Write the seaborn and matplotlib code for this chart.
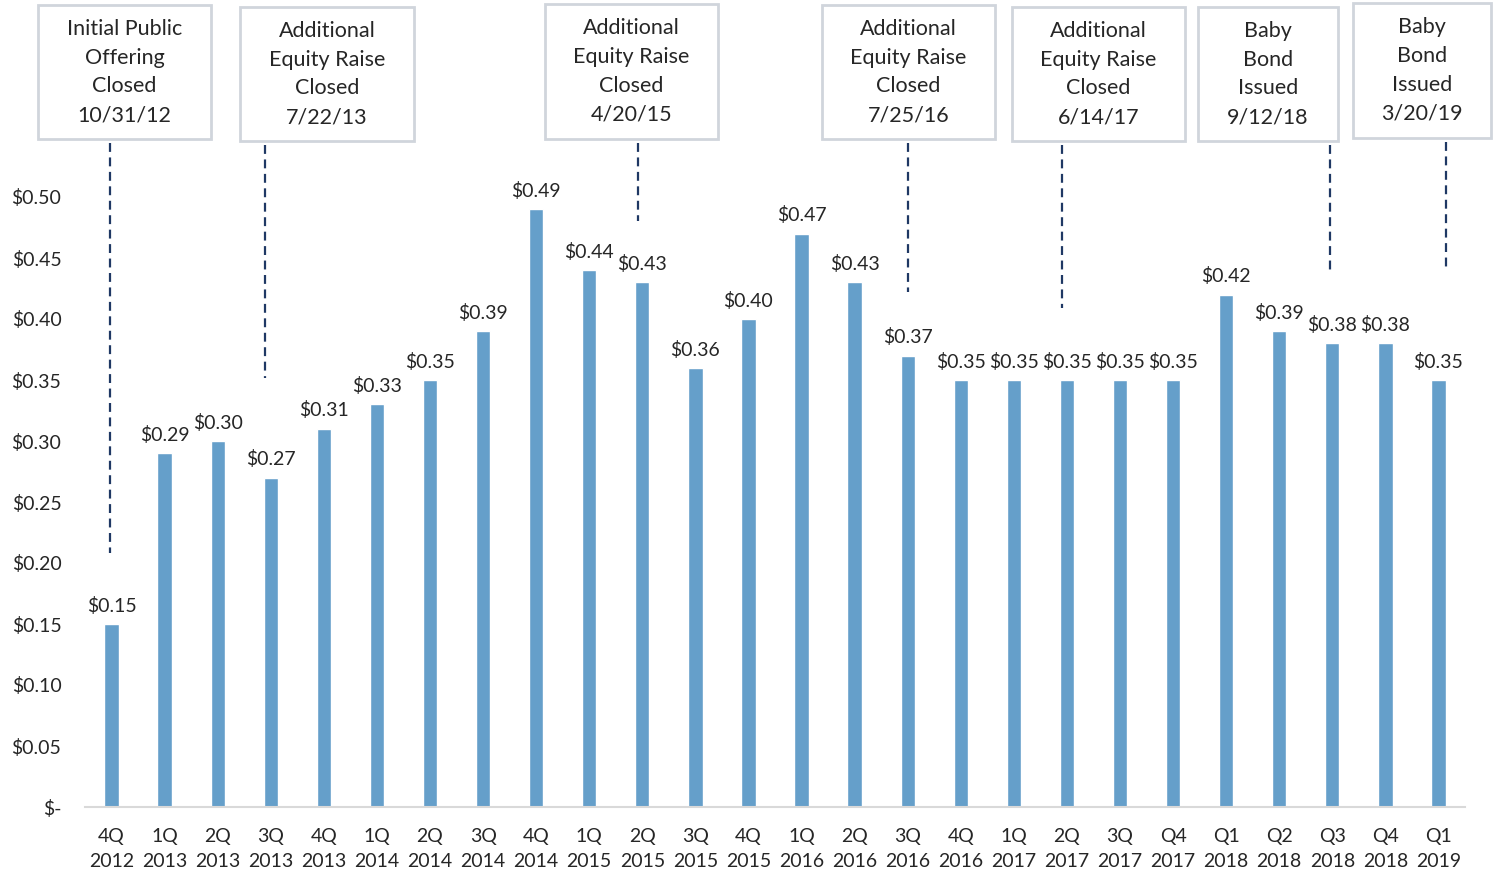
import matplotlib
matplotlib.use("Agg")
import matplotlib.pyplot as plt
from matplotlib.patches import Rectangle
import seaborn as sns
import pandas as pd

# quarterly distributions
quarters = ["4Q\n2012", "1Q\n2013", "2Q\n2013", "3Q\n2013", "4Q\n2013", "1Q\n2014", "2Q\n2014",
            "3Q\n2014", "4Q\n2014", "1Q\n2015", "2Q\n2015", "3Q\n2015", "4Q\n2015", "1Q\n2016",
            "2Q\n2016", "3Q\n2016", "4Q\n2016", "1Q\n2017", "2Q\n2017", "3Q\n2017", "Q4\n2017",
            "Q1\n2018", "Q2\n2018", "Q3\n2018", "Q4\n2018", "Q1\n2019"]
dividends = [0.15, 0.29, 0.30, 0.27, 0.31, 0.33, 0.35, 0.39, 0.49, 0.44, 0.43, 0.36, 0.40,
             0.47, 0.43, 0.37, 0.35, 0.35, 0.35, 0.35, 0.35, 0.42, 0.39, 0.38, 0.38, 0.35]
yticks = [0.0, 0.05, 0.10, 0.15, 0.20, 0.25, 0.30, 0.35, 0.40, 0.45, 0.50]

# events: box text, line position (bar index), line end (value)
event_text = ["Initial Public\nOffering\nClosed\n10/31/12",
              "Additional\nEquity Raise\nClosed\n7/22/13",
              "Additional\nEquity Raise\nClosed\n4/20/15",
              "Additional\nEquity Raise\nClosed\n7/25/16",
              "Additional\nEquity Raise\nClosed\n6/14/17",
              "Baby\nBond\nIssued\n9/12/18",
              "Baby\nBond\nIssued\n3/20/19"]
event_line_x = [-0.02, 2.9, 9.92, 15.0, 17.9, 22.96, 25.15]
event_line_end = [0.208, 0.352, 0.48, 0.422, 0.409, 0.44, 0.44]

# box layout in pixels (left, top, right, bottom)
W, H = 1493, 871
box_px = [(38, 5, 211, 139), (240, 7, 414, 141), (545, 4, 718, 139), (822, 5, 995, 139),
          (1012, 7, 1185, 141), (1198, 7, 1338, 141), (1353, 3, 1491, 138)]

sns.set_style("white")
plt.rcParams['font.family'] = ['Lato', 'DejaVu Sans']

df = pd.DataFrame({"quarter": quarters, "dividend": dividends})

fig = plt.figure(figsize=(W / 100, H / 100), dpi=100)
ax = fig.add_axes([85 / W, 64 / H, 1380 / W, 732 / H])
sns.barplot(data=df, x="quarter", y="dividend", color="#659FCA", saturation=1,
            width=0.27, ax=ax)

ax.set_xlim(-0.5, len(quarters) - 0.5)
ax.set_ylim(0, 0.6)
ax.set_yticks(yticks)
ax.set_yticklabels(["$-"] + [f"${v:.2f}" for v in yticks[1:]], fontsize=14)
ax.tick_params(axis='y', pad=17, length=0)
ax.tick_params(axis='x', length=0, pad=15, labelsize=14)
for lbl in ax.get_xticklabels():
    lbl.set_linespacing(1.55)
ax.set_xlabel("")
ax.set_ylabel("")
for s in ["top", "right", "left"]:
    ax.spines[s].set_visible(False)
ax.spines["bottom"].set_color("#D9D9D9")
ax.spines["bottom"].set_linewidth(1.5)

for i, v in enumerate(dividends):
    ax.text(i, v + 0.015, f"${v:.2f}", ha="center", va="center", fontsize=14)

for txt, lx, ly, (l, t, r, b) in zip(event_text, event_line_x, event_line_end, box_px):
    top_val = (H - 64 - (b + 4)) / 732 * 0.6
    ax.plot([lx, lx], [top_val, ly], color="#1F3864", lw=1.6, ls=(0, (4, 2.5)),
            clip_on=False)
    fig.patches.append(Rectangle((l / W, 1 - b / H), (r - l) / W, (b - t) / H,
                                 transform=fig.transFigure, facecolor="white",
                                 edgecolor="#D0D5DC", lw=2))
    fig.text((l + r) / 2 / W, 1 - (t + b) / 2 / H, txt, ha="center", va="center",
             fontsize=15.5, linespacing=1.55)

plt.savefig("out.png", dpi=100)
